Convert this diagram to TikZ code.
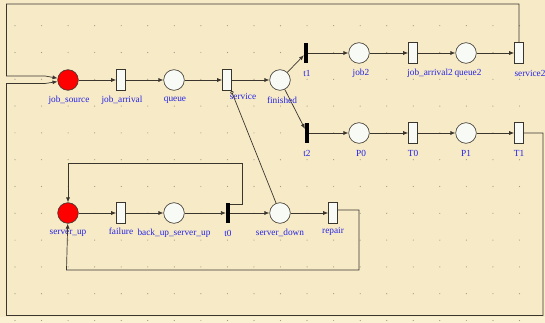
\documentclass[tikz,border=0pt]{standalone}
\usepackage{fontspec}
\setmainfont{Liberation Serif}
\usetikzlibrary{arrows.meta}
\definecolor{bg}{RGB}{247,234,199}
\definecolor{bgb}{RGB}{250,240,210}
\definecolor{ln}{RGB}{58,54,46}
\definecolor{lbl}{RGB}{35,35,230}
\definecolor{dotc}{RGB}{160,155,135}
\definecolor{wh}{RGB}{248,250,246}
\begin{document}
\begin{tikzpicture}[x=1pt,y=-1pt,
 place/.style={circle,draw=ln,fill=wh,minimum size=20.6pt,inner sep=0pt,line width=0.6pt},
 token/.style={place,fill=red},
 trans/.style={rectangle,draw=ln,fill=wh,minimum width=9pt,minimum height=21pt,inner sep=0pt,line width=0.6pt},
 imm/.style={rectangle,fill=black,draw=none,minimum width=3.8pt,minimum height=20pt,inner sep=0pt},
 lab/.style={text=lbl,font=\fontsize{9.3}{10}\selectfont,inner sep=0pt},
 arc/.style={draw=ln,line width=0.7pt,-{Latex[length=5pt,width=4pt]}},
 inh/.style={draw=ln,line width=0.7pt,-{Circle[open,length=3.5pt,width=3.5pt]}}]
\fill[bg] (0,0) rectangle (545,323);
\fill[bgb] (0,317) rectangle (545,323);
\useasboundingbox (0,0) rectangle (545,323);
\foreach \i in {0,...,20} \foreach \j in {0,...,11}
  \fill[dotc] ({15+26.55*\i},{25.7+26.8*\j}) circle (0.6);
% nodes
\node[token] (js) at (68,80) {};
\node[trans] (ja) at (121,80) {};
\node[place] (q) at (174,80) {};
\node[trans] (sv) at (227,80) {};
\node[place] (fin) at (280,80) {};
\node[imm] (t1) at (306,53) {};
\node[place] (j2) at (359,53) {};
\node[trans] (ja2) at (413,53) {};
\node[place] (q2) at (466,53) {};
\node[trans] (sv2) at (519,53) {};
\node[imm] (t2) at (307,133) {};
\node[place] (p0) at (359,133) {};
\node[trans] (t0r) at (413,133) {};
\node[place] (p1) at (466,133) {};
\node[trans] (t1r) at (519,133) {};
\node[token] (su) at (68,213) {};
\node[trans] (fl) at (121,213) {};
\node[place] (bu) at (174,213) {};
\node[imm] (t0) at (228,213) {};
\node[place] (sd) at (280,213) {};
\node[trans] (rp) at (333,213) {};
% labels
\node[lab] (ljs) at (69,100) {job\_source};
\node[lab] (lja) at (122,100) {job\_arrival};
\node[lab] (lq) at (175,100) {queue};
\node[lab] (lsv) at (243,96) {service};
\node[lab] (lfin) at (282,100) {finished};
\node[lab] (lt1) at (307,73) {t1};
\node[lab] (lj2) at (361,73) {job2};
\node[lab] (lja2) at (430,73) {job\_arrival2};
\node[lab] (lq2) at (468,73) {queue2};
\node[lab] (lsv2) at (530,73) {service2};
\node[lab] (lt2) at (307,153) {t2};
\node[lab] (lp0) at (361,153) {P0};
\node[lab] (lt0r) at (413,153) {T0};
\node[lab] (lp1) at (466,153) {P1};
\node[lab] (lt1r) at (519,153) {T1};
\node[lab] (lsu) at (68,233) {server\_up};
\node[lab] (lfl) at (121,231) {failure};
\node[lab] (lbu) at (174,233) {back\_up\_server\_up};
\node[lab] (lt0) at (228,233) {t0};
\node[lab] (lsd) at (280,233) {server\_down};
\node[lab] (lrp) at (333,231) {repair};
% arcs
\draw[arc] (js) -- (ja);
\draw[arc] (ja) -- (q);
\draw[arc] (q) -- (sv);
\draw[arc] (sv) -- (fin);
\draw[arc] (fin) -- (t1);
\draw[arc] (fin) -- (t2);
\draw[arc] (t1) -- (j2);
\draw[arc] (j2) -- (ja2);
\draw[arc] (ja2) -- (q2);
\draw[arc] (q2) -- (sv2);
\draw[arc] (t2) -- (p0);
\draw[arc] (p0) -- (t0r);
\draw[arc] (t0r) -- (p1);
\draw[arc] (p1) -- (t1r);
\draw[arc] (su) -- (fl);
\draw[arc] (fl) -- (bu);
\draw[arc] (bu) -- (t0);
\draw[arc] (t0) -- (sd);
\draw[arc] (sd) -- (rp);
\draw[inh] (sd) -- (sv);
% wrap-around arcs
\coordinate (c1) at (6.5,4);
\coordinate (c2) at (6.5,76);
\coordinate (c3) at (45,76);
\draw[arc] (sv2.north) |- (c1) -- (c2) -- (c3) -- (js);
\coordinate (d2) at (543,315.5);
\coordinate (d3) at (6.5,315.5);
\coordinate (d4) at (6.5,83.5);
\coordinate (d5) at (45,83.5);
\draw[arc] (t1r.east) -| (d2) -- (d3) -- (d4) -- (d5) -- (js);
\coordinate (e1) at (242,204);
\coordinate (e2) at (242,163);
\coordinate (e3) at (68,163);
\draw[arc] (t0.east |- e1) -- (e1) -- (e2) -- (e3) -- (su);
\coordinate (f1) at (359,210);
\coordinate (f2) at (359,270);
\coordinate (f3) at (66.5,270);
\draw[arc] (rp.east |- f1) -- (f1) -- (f2) -- (f3) -- (su);
\end{tikzpicture}
\end{document}
